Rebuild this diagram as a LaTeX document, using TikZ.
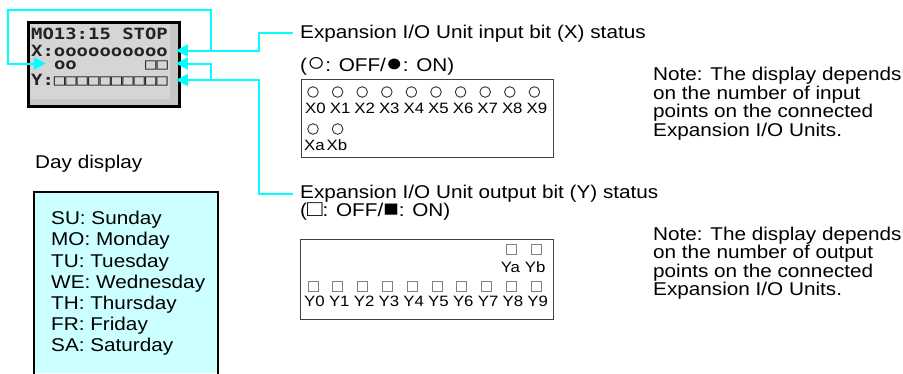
\documentclass[tikz,border=0pt]{standalone}
\usepackage{fontspec}
\setmainfont{Liberation Sans}[FakeStretch=1.12]
\newfontfamily\lcdfont{DejaVu Sans Mono}[FakeStretch=1.22]
\usetikzlibrary{arrows.meta}
\definecolor{leadc}{RGB}{0,255,255}
\definecolor{dayfill}{RGB}{204,255,255}
\definecolor{lcdfill}{RGB}{213,213,213}
\definecolor{lcdshade}{RGB}{198,198,198}
\definecolor{lcdink}{RGB}{35,35,35}
\colorlet{boxc}{black!75}
\colorlet{bitc}{black!80}
\colorlet{sqc}{black!50}
\newcommand\keysym[2][23]{{\fontsize{#1}{18}\selectfont#2}}

\begin{document}
\begin{tikzpicture}[x=1pt,y=-1pt,font=\fontsize{18.5}{18.5}\selectfont,
  lead/.style={draw=leadc,line width=2pt,-{Triangle[length=12pt,width=12pt]}},
  lcdrow/.style={inner sep=0pt,anchor=base west,text height=11pt,text depth=0pt,
    font=\lcdfont\bfseries\fontsize{15.5}{15.5}\selectfont,text=lcdink},
  bitlbl/.style={inner sep=0pt,anchor=base,font=\fontsize{15}{15}\selectfont},
  txt/.style={inner sep=0pt,anchor=base west},
  note/.style={inner sep=0pt,anchor=north west,align=left}]
\useasboundingbox (0,0) rectangle (903,373);
% ---- LCD screen ----
\node[draw=black,line width=3.3pt,fill=lcdfill,minimum width=150.6pt,
  minimum height=84pt,inner sep=0pt] (lcd) at (104,64.5) {};
\fill[lcdshade] (170,24.3) rectangle (177.6,104.7);
\fill[lcdshade] (30.4,99) rectangle (177.6,104.7);
\node[lcdrow] (lcdhead) at (31,39) {MO13:15 STOP};
\node[lcdrow] (lcdx) at (31,56) {X:oooooooooo};
\node[lcdrow] (lcdon) at (53.8,69) {oo};
\node[lcdrow] (lcdyab) at (145,69) {□□};
\node[lcdrow] (lcdy) at (31,85.5) {Y:□□□□□□□□□□};
% ---- day display ----
\node[txt] (daytitle) at (35,168.5) {Day display};
\fill[dayfill] (34,192) rectangle (218,373);
\draw[line width=2pt] (34,375) |- (218,192) -- (218,375);
\node[note,font=\fontsize{18.5}{21.2}\selectfont] (daylist) at (51,211)
  {SU: Sunday\\MO: Monday\\TU: Tuesday\\WE: Wednesday\\TH: Thursday\\FR: Friday\\SA: Saturday};
% ---- input bits (X) ----
\node[txt] (xhead) at (300,38) {Expansion I/O Unit input bit (X) status};
\node[txt] (xkey) at (300,71) {(\keysym[27]{○}: OFF/\keysym[25]{●}: ON)};
\node[draw=boxc,line width=1pt,minimum width=252pt,minimum height=78pt,inner sep=0pt] (xbox) at (427,118) {};
\foreach \i in {0,...,9}{
  \draw[bitc,line width=0.9pt] (313+24.6*\i,92) circle (5.3);
  \node[bitlbl] (xl\i) at (315.5+24.6*\i,113.5) {X\i};}
\foreach \c [count=\i from 0] in {a,b}{
  \draw[bitc,line width=0.9pt] (313+24.6*\i,129) circle (5.3);
  \node[bitlbl] (xl\c) at (314.5+22.5*\i,150.5) {X\c};}
\node[note] (innote) at (653,67.2)
  {Note: The display depends\\on the number of input\\points on the connected\\Expansion I/O Units.};
% ---- output bits (Y) ----
\node[txt] (yhead) at (300,198.5) {Expansion I/O Unit output bit (Y) status};
\node[txt] (ykey) at (300,216) {(\keysym{□}: OFF/\keysym{■}: ON)};
\node[draw=boxc,line width=1pt,minimum width=253pt,minimum height=80pt,inner sep=0pt] (ybox) at (426.5,279) {};
\foreach \i in {0,...,9}{
  \draw[sqc,line width=0.9pt] (308+24.8*\i,281) rectangle ++(10,10);
  \node[bitlbl] (yl\i) at (314.5+24.8*\i,306.5) {Y\i};}
\foreach \c [count=\i from 8] in {a,b}{
  \draw[sqc,line width=0.9pt] (308+24.8*\i,244) rectangle ++(10,10);
  \node[bitlbl] (yl\c) at (312+24.8*\i,272.5) {Y\c};}
\node[note] (outnote) at (653,226.5)
  {Note: The display depends\\on the number of output\\points on the connected\\Expansion I/O Units.};
% ---- cyan leaders ----
\coordinate (riser) at (211,10);
\coordinate (loopc) at (8,10);
\draw[lead] ([xshift=-7pt]xhead.west) -- ++(-34,0) |- ([xshift=-5pt]lcd.east |- lcdx.east);
\draw[lead] (riser |- lcdx.east) -- (riser) -- (loopc) |- ([xshift=-8pt]lcdon.west);
\draw[lead] ([xshift=-7pt]yhead.west) -- ++(-34,0) |- ([xshift=-5pt]lcd.east |- lcdy.east);
\draw[lead] (riser |- lcdy.east) -- (riser |- lcdyab.east) -- ([xshift=-5pt]lcd.east |- lcdyab.east);
\end{tikzpicture}
\end{document}
